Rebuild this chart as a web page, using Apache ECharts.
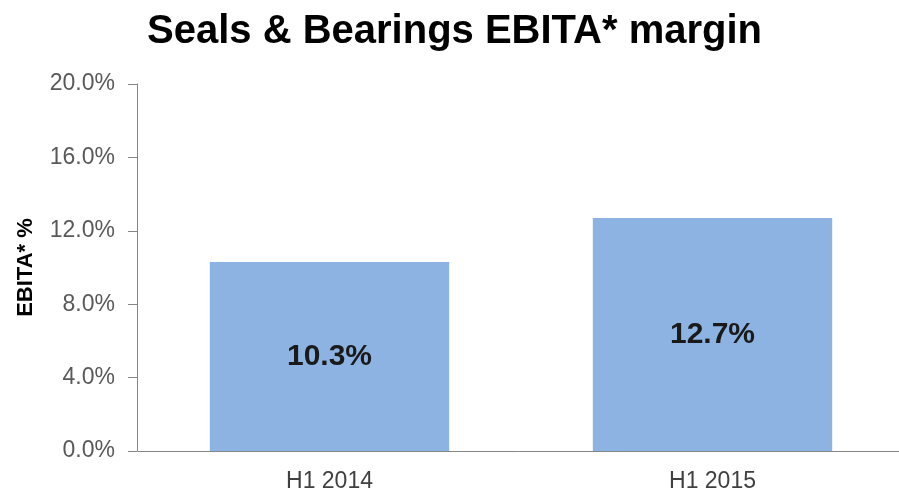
<!DOCTYPE html>
<html>
<head>
<meta charset="utf-8">
<script src="https://cdn.jsdelivr.net/npm/echarts@6/dist/echarts.min.js"></script>
<style>html,body{margin:0;padding:0;background:#fff;}#c{width:899px;height:492px;}</style>
</head>
<body>
<div id="c"></div>
<script>
var categories = ['H1 2014', 'H1 2015'];
var marginValues = [10.3, 12.7];
var yTicks = [0, 4, 8, 12, 16, 20];

var chart = echarts.init(document.getElementById('c'));
chart.setOption({
  animation: false,
  backgroundColor: '#ffffff',
  title: {
    text: 'Seals & Bearings EBITA* margin',
    left: 142,
    top: 7,
    textStyle: { fontFamily: 'Liberation Sans', fontWeight: 'bold', fontSize: 40, color: '#000000' }
  },
  grid: { left: 138, top: 84, bottom: 41, width: 766, outerBoundsMode: 'none', containLabel: false },
  xAxis: {
    type: 'category',
    data: categories,
    axisLine: { lineStyle: { color: '#868686', width: 1 } },
    axisTick: { show: false },
    axisLabel: { fontFamily: 'Liberation Sans', fontSize: 23, color: '#404040', margin: 19 }
  },
  yAxis: {
    type: 'value',
    min: yTicks[0],
    max: yTicks[yTicks.length - 1],
    interval: 4,
    offset: 1,
    name: 'EBITA* %',
    nameLocation: 'middle',
    nameGap: 100,
    nameTextStyle: { fontFamily: 'Liberation Sans', fontWeight: 'bold', fontSize: 22, color: '#000000' },
    axisLine: { show: true, lineStyle: { color: '#868686', width: 1 } },
    axisTick: { show: true, length: 9, lineStyle: { color: '#868686' } },
    splitLine: { show: false },
    axisLabel: {
      fontFamily: 'Liberation Sans', fontSize: 23, color: '#595959', margin: 22,
      formatter: function (v) { return v.toFixed(1) + '%'; }
    }
  },
  series: [{
    type: 'bar',
    data: marginValues,
    barWidth: '62.5%',
    itemStyle: { color: '#8DB3E2' },
    label: {
      show: true,
      position: 'inside',
      fontFamily: 'Liberation Sans',
      fontWeight: 'bold',
      fontSize: 30,
      color: '#1a1a1a',
      formatter: function (p) { return p.value.toFixed(1) + '%'; }
    }
  }]
});
</script>
</body>
</html>
